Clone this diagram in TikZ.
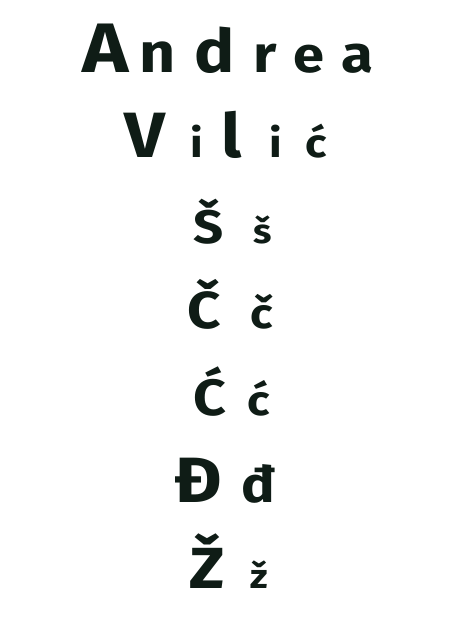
\documentclass[tikz,border=0pt]{standalone}
\usepackage{fontspec}
\setmainfont{Fira Sans}
\definecolor{ink}{HTML}{0F1C16}
\newcommand{\sz}[1]{\fontsize{#1}{#1}\selectfont}
\tikzset{glyph/.style={text=ink, inner sep=0pt, anchor=base, font=\bfseries, xscale=1.12}}
\begin{document}
\begin{tikzpicture}[x=1pt, y=-1pt]
\useasboundingbox[fill=white] (0,0) rectangle (468,619);
% first name
\node[glyph] (ch0) at (106,72){\sz{70}A};
\node[glyph] (ch1) at (158,72){\sz{56}n};
\node[glyph] (ch2) at (215,72){\sz{60}d};
\node[glyph] (ch3) at (265,72){\sz{52}r};
\node[glyph] (ch4) at (309,72){\sz{50}e};
\node[glyph] (ch5) at (357,72){\sz{52}a};
% surname
\node[glyph] (ch6) at (145,157){\sz{64}V};
\node[glyph] (ch7) at (197,157){\sz{40}i};
\node[glyph] (ch8) at (232,157){\sz{61}l};
\node[glyph] (ch9) at (276,157){\sz{40}i};
\node[glyph] (ch10) at (316,157){\sz{40}ć};
% letter pairs
\node[glyph] (ch11) at (209,243){\sz{47}Š};
\node[glyph] (ch12) at (263,243){\sz{34}š};
\node[glyph] (ch13) at (204,328){\sz{52}Č};
\node[glyph] (ch14) at (262,328){\sz{42}č};
\node[glyph] (ch15) at (210,415){\sz{51}Ć};
\node[glyph] (ch16) at (259,415){\sz{42}ć};
\node[glyph] (ch17) at (198,502){\sz{64}Đ};
\node[glyph] (ch18) at (259,502){\sz{50}đ};
\node[glyph] (ch19) at (207,588){\sz{58}Ž};
\node[glyph] (ch20) at (259,588){\sz{34}ž};
\end{tikzpicture}
\end{document}
